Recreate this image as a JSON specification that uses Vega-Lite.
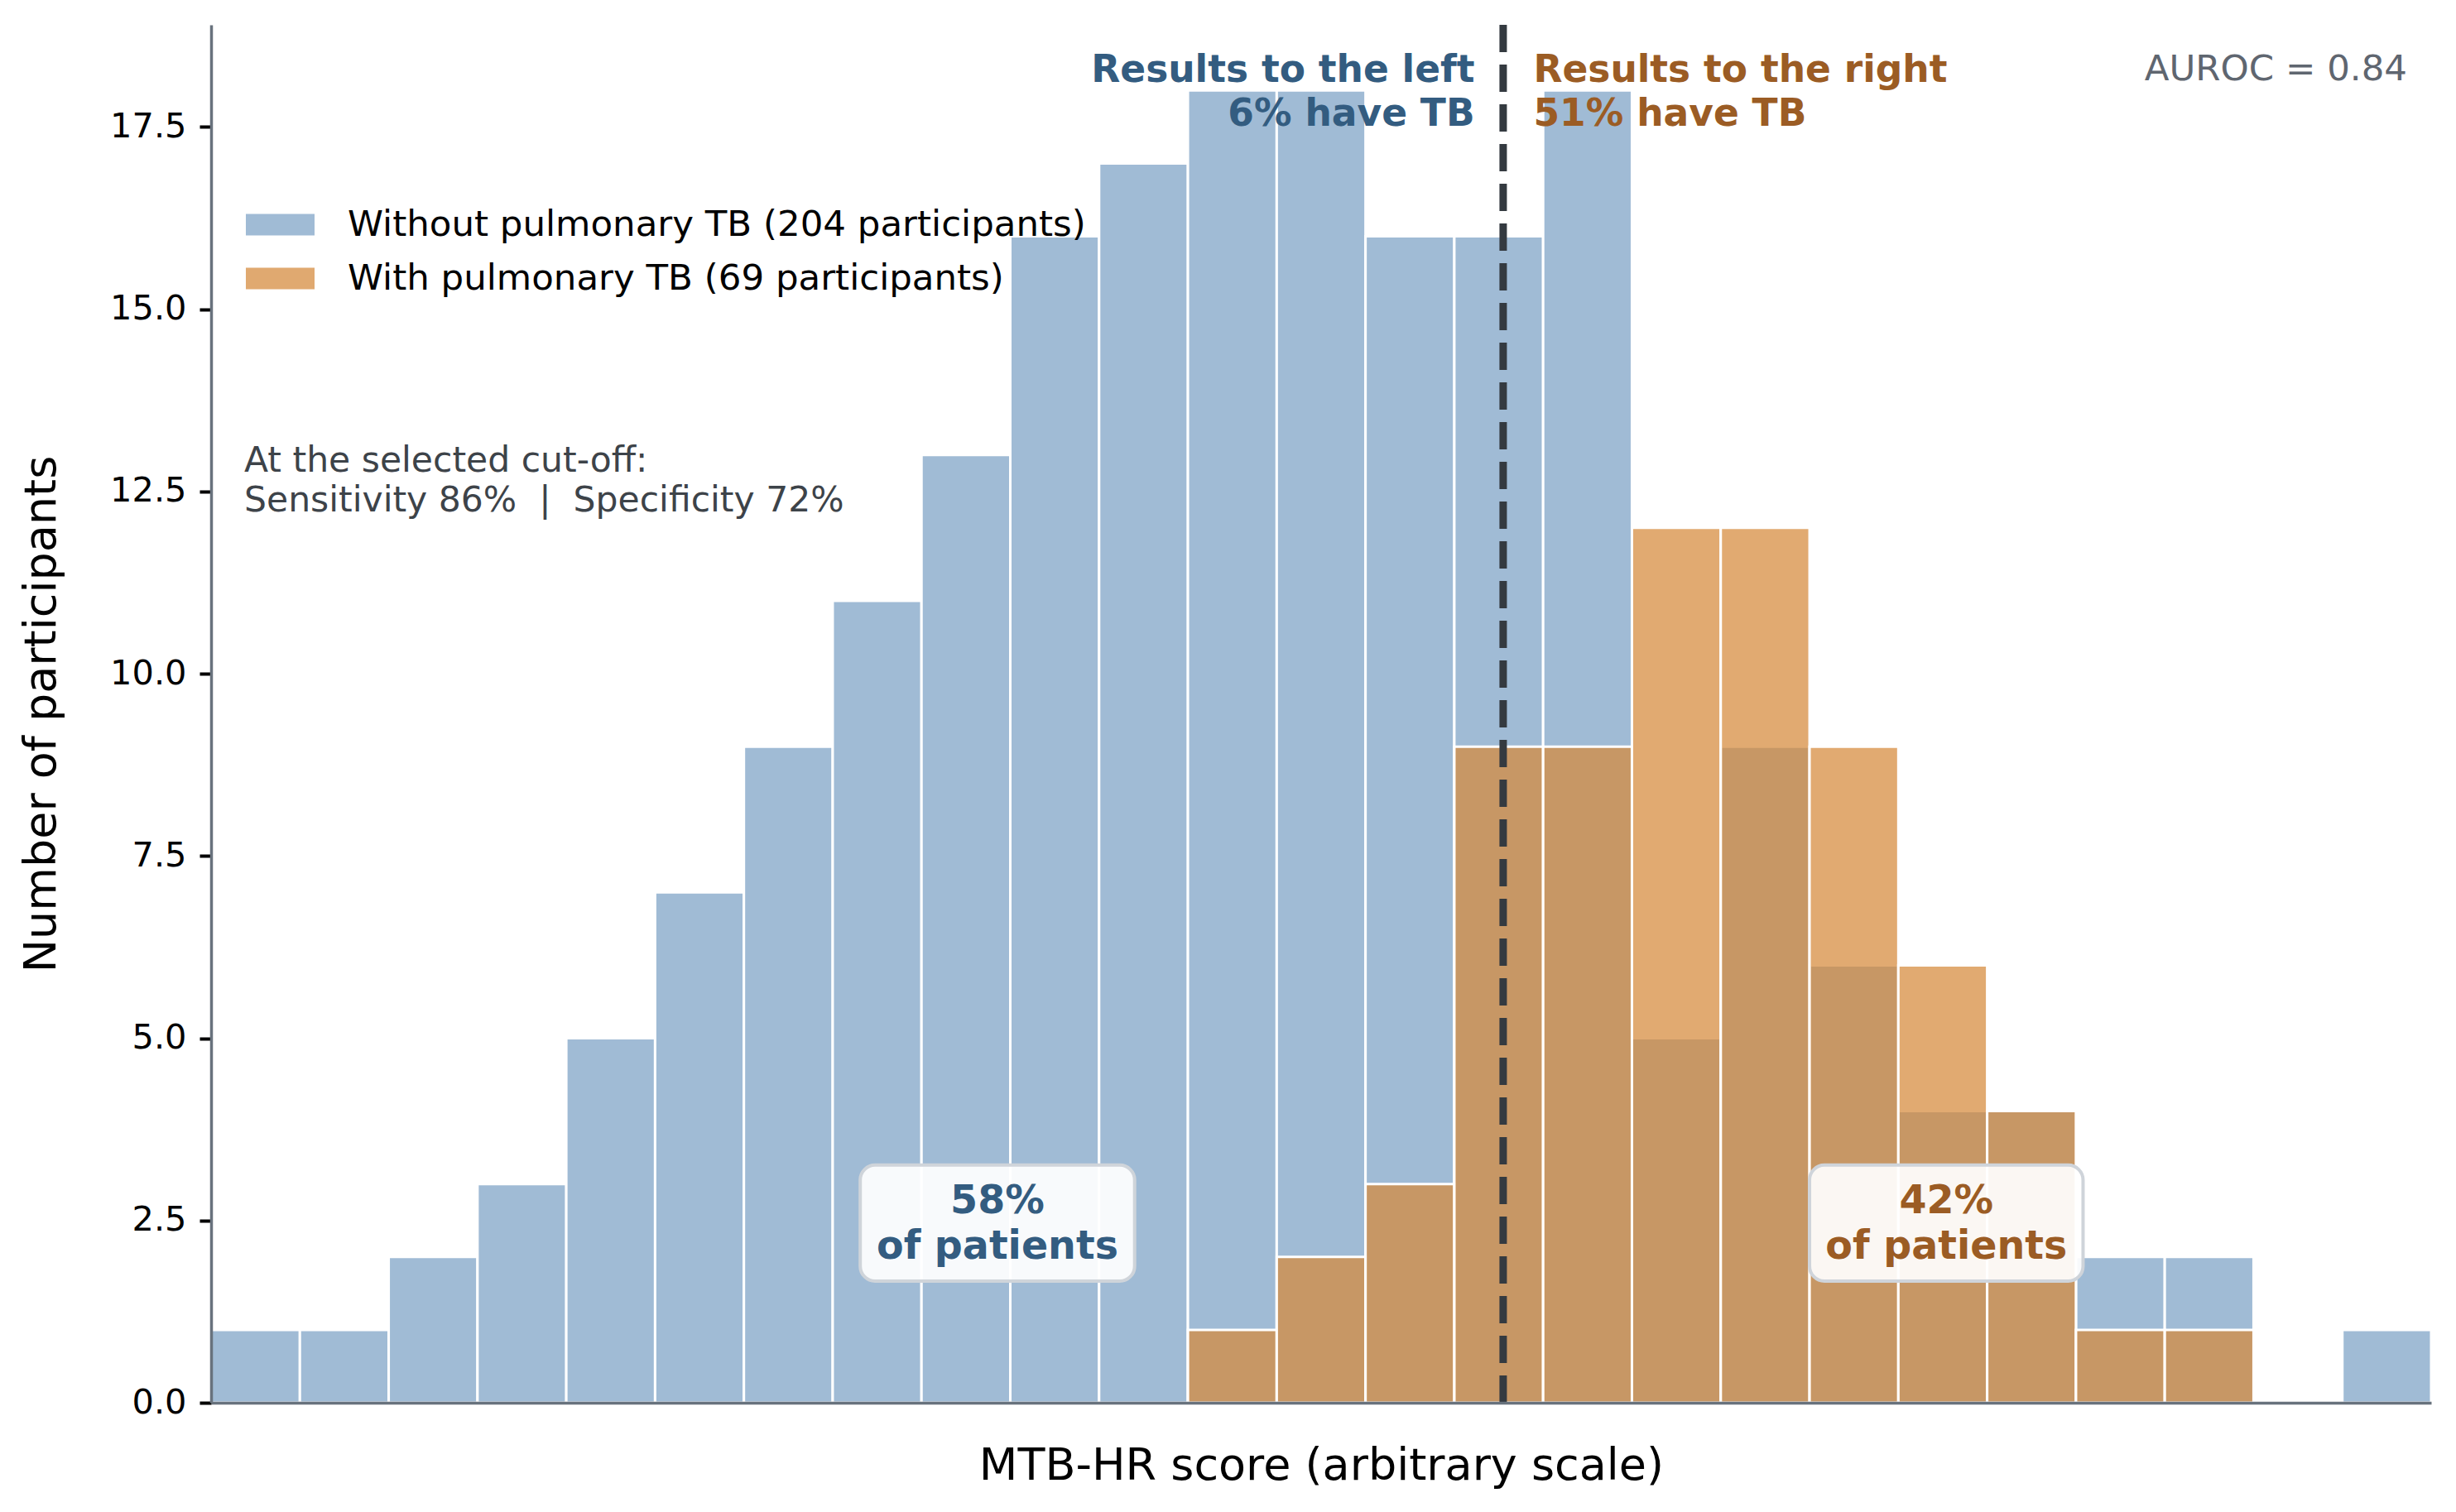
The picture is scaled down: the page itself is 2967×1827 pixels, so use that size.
{
  "$schema": "https://vega.github.io/schema/vega-lite/v6.json",
  "description": "Histogram of MTB-HR scores with and without pulmonary TB, with the selected cut-off.",
  "width": 2682,
  "height": 1665,
  "autosize": {"type": "none"},
  "padding": {"left": 255, "top": 30, "right": 30, "bottom": 132},
  "config": {
    "font": "DejaVu Sans",
    "view": {"stroke": null},
    "text": {"font": "DejaVu Sans", "lineBreak": "\n"}
  },
  "layer": [
    {
      "data": {
        "values": [
          {"lo": 0, "hi": 1, "group": "Without pulmonary TB (204 participants)", "n": 1},
          {"lo": 1, "hi": 2, "group": "Without pulmonary TB (204 participants)", "n": 1},
          {"lo": 2, "hi": 3, "group": "Without pulmonary TB (204 participants)", "n": 2},
          {"lo": 3, "hi": 4, "group": "Without pulmonary TB (204 participants)", "n": 3},
          {"lo": 4, "hi": 5, "group": "Without pulmonary TB (204 participants)", "n": 5},
          {"lo": 5, "hi": 6, "group": "Without pulmonary TB (204 participants)", "n": 7},
          {"lo": 6, "hi": 7, "group": "Without pulmonary TB (204 participants)", "n": 9},
          {"lo": 7, "hi": 8, "group": "Without pulmonary TB (204 participants)", "n": 11},
          {"lo": 8, "hi": 9, "group": "Without pulmonary TB (204 participants)", "n": 13},
          {"lo": 9, "hi": 10, "group": "Without pulmonary TB (204 participants)", "n": 16},
          {"lo": 10, "hi": 11, "group": "Without pulmonary TB (204 participants)", "n": 17},
          {"lo": 11, "hi": 12, "group": "Without pulmonary TB (204 participants)", "n": 18},
          {"lo": 12, "hi": 13, "group": "Without pulmonary TB (204 participants)", "n": 18},
          {"lo": 13, "hi": 14, "group": "Without pulmonary TB (204 participants)", "n": 16},
          {"lo": 14, "hi": 15, "group": "Without pulmonary TB (204 participants)", "n": 16},
          {"lo": 15, "hi": 16, "group": "Without pulmonary TB (204 participants)", "n": 18},
          {"lo": 16, "hi": 17, "group": "Without pulmonary TB (204 participants)", "n": 5},
          {"lo": 17, "hi": 18, "group": "Without pulmonary TB (204 participants)", "n": 9},
          {"lo": 18, "hi": 19, "group": "Without pulmonary TB (204 participants)", "n": 6},
          {"lo": 19, "hi": 20, "group": "Without pulmonary TB (204 participants)", "n": 4},
          {"lo": 20, "hi": 21, "group": "Without pulmonary TB (204 participants)", "n": 4},
          {"lo": 21, "hi": 22, "group": "Without pulmonary TB (204 participants)", "n": 2},
          {"lo": 22, "hi": 23, "group": "Without pulmonary TB (204 participants)", "n": 2},
          {"lo": 24, "hi": 25, "group": "Without pulmonary TB (204 participants)", "n": 1},
          {"lo": 11, "hi": 12, "group": "With pulmonary TB (69 participants)", "n": 1},
          {"lo": 12, "hi": 13, "group": "With pulmonary TB (69 participants)", "n": 2},
          {"lo": 13, "hi": 14, "group": "With pulmonary TB (69 participants)", "n": 3},
          {"lo": 14, "hi": 15, "group": "With pulmonary TB (69 participants)", "n": 9},
          {"lo": 15, "hi": 16, "group": "With pulmonary TB (69 participants)", "n": 9},
          {"lo": 16, "hi": 17, "group": "With pulmonary TB (69 participants)", "n": 12},
          {"lo": 17, "hi": 18, "group": "With pulmonary TB (69 participants)", "n": 12},
          {"lo": 18, "hi": 19, "group": "With pulmonary TB (69 participants)", "n": 9},
          {"lo": 19, "hi": 20, "group": "With pulmonary TB (69 participants)", "n": 6},
          {"lo": 20, "hi": 21, "group": "With pulmonary TB (69 participants)", "n": 4},
          {"lo": 21, "hi": 22, "group": "With pulmonary TB (69 participants)", "n": 1},
          {"lo": 22, "hi": 23, "group": "With pulmonary TB (69 participants)", "n": 1}
        ]
      },
      "mark": {"type": "rect", "fillOpacity": 0.72, "stroke": "white", "strokeWidth": 3},
      "encoding": {
        "x": {
          "field": "lo",
          "type": "quantitative",
          "scale": {"domain": [0, 25], "nice": false, "zero": false},
          "axis": {
            "zindex": 1,
            "labels": false,
            "ticks": false,
            "grid": false,
            "domainColor": "#68727d",
            "domainWidth": 3.5,
            "title": "MTB-HR score (arbitrary scale)",
            "titleFontSize": 54,
            "titleFontWeight": "normal",
            "titleColor": "#000000",
            "titlePadding": 49
          }
        },
        "x2": {"field": "hi"},
        "y": {
          "field": "n",
          "type": "quantitative",
          "scale": {"domain": [0, 18.9], "nice": false},
          "axis": {
            "zindex": 1,
            "values": [0, 2.5, 5, 7.5, 10, 12.5, 15, 17.5],
            "format": ".1f",
            "grid": false,
            "labelFontSize": 41.5,
            "labelColor": "#000000",
            "labelPadding": 16,
            "tickColor": "#000000",
            "tickSize": 14,
            "tickWidth": 4,
            "domainColor": "#68727d",
            "domainWidth": 3.5,
            "title": "Number of participants",
            "titleFontSize": 54,
            "titleFontWeight": "normal",
            "titleColor": "#000000",
            "titlePadding": 55
          }
        },
        "y2": {"datum": 0},
        "color": {
          "field": "group",
          "type": "nominal",
          "scale": {
            "domain": ["Without pulmonary TB (204 participants)", "With pulmonary TB (69 participants)"],
            "range": ["#7ca1c5", "#d5893a"]
          },
          "legend": {
            "title": null,
            "orient": "none",
            "legendX": 40,
            "legendY": 198,
            "padding": 0,
            "labelFontSize": 43.5,
            "labelColor": "#000000",
            "labelLimit": 0,
            "labelOffset": 38,
            "symbolType": "M-1,-0.33H1V0.33H-1Z",
            "symbolSize": 7225,
            "symbolOpacity": 0.72,
            "symbolStrokeColor": "white",
            "symbolStrokeWidth": 2,
            "rowPadding": -22
          }
        }
      }
    },
    {
      "data": {"values": [{"cutoff": 14.55}]},
      "mark": {"type": "rule", "strokeDash": [33, 15], "strokeWidth": 9, "color": "#343a40"},
      "encoding": {"x": {"field": "cutoff", "type": "quantitative"}}
    },
    {
      "data": {
        "values": [
          {"x": 7.31, "x2": 10.4, "y": 1.67, "y2": 3.26},
          {"x": 18.0, "x2": 21.08, "y": 1.67, "y2": 3.26}
        ]
      },
      "mark": {"type": "rect", "fill": "white", "fillOpacity": 0.92, "stroke": "#cfd4da", "strokeWidth": 4, "cornerRadius": 18},
      "encoding": {
        "x": {"field": "x", "type": "quantitative"},
        "x2": {"field": "x2"},
        "y": {"field": "y", "type": "quantitative"},
        "y2": {"field": "y2"}
      }
    },
    {
      "data": {"values": [{"x": 8.855, "y": 2.6, "label": "58%\nof patients"}]},
      "mark": {"type": "text", "align": "center", "baseline": "alphabetic", "fontSize": 47.5, "fontWeight": "bold", "lineHeight": 55, "color": "#335c80"},
      "encoding": {
        "x": {"field": "x", "type": "quantitative"},
        "y": {"field": "y", "type": "quantitative"},
        "text": {"field": "label"}
      }
    },
    {
      "data": {"values": [{"x": 19.54, "y": 2.6, "label": "42%\nof patients"}]},
      "mark": {"type": "text", "align": "center", "baseline": "alphabetic", "fontSize": 47.5, "fontWeight": "bold", "lineHeight": 55, "color": "#9b5c24"},
      "encoding": {
        "x": {"field": "x", "type": "quantitative"},
        "y": {"field": "y", "type": "quantitative"},
        "text": {"field": "label"}
      }
    },
    {
      "data": {"values": [{"x": 14.23, "y": 18.12, "label": "Results to the left\n6% have TB"}]},
      "mark": {"type": "text", "align": "right", "baseline": "alphabetic", "fontSize": 45.5, "fontWeight": "bold", "lineHeight": 53, "color": "#335c80"},
      "encoding": {
        "x": {"field": "x", "type": "quantitative"},
        "y": {"field": "y", "type": "quantitative"},
        "text": {"field": "label"}
      }
    },
    {
      "data": {"values": [{"x": 14.89, "y": 18.12, "label": "Results to the right\n51% have TB"}]},
      "mark": {"type": "text", "align": "left", "baseline": "alphabetic", "fontSize": 45.5, "fontWeight": "bold", "lineHeight": 53, "color": "#9b5c24"},
      "encoding": {
        "x": {"field": "x", "type": "quantitative"},
        "y": {"field": "y", "type": "quantitative"},
        "text": {"field": "label"}
      }
    },
    {
      "data": {"values": [{"x": 24.73, "y": 18.14, "label": "AUROC = 0.84"}]},
      "mark": {"type": "text", "align": "right", "baseline": "alphabetic", "fontSize": 43.5, "color": "#5f6670"},
      "encoding": {
        "x": {"field": "x", "type": "quantitative"},
        "y": {"field": "y", "type": "quantitative"},
        "text": {"field": "label"}
      }
    },
    {
      "data": {"values": [{"x": 0.373, "y": 12.77, "label": "At the selected cut-off:\nSensitivity 86%\u00a0 |\u00a0 Specificity 72%"}]},
      "mark": {"type": "text", "align": "left", "baseline": "alphabetic", "fontSize": 42.5, "lineHeight": 48, "color": "#3d4349"},
      "encoding": {
        "x": {"field": "x", "type": "quantitative"},
        "y": {"field": "y", "type": "quantitative"},
        "text": {"field": "label"}
      }
    }
  ]
}
